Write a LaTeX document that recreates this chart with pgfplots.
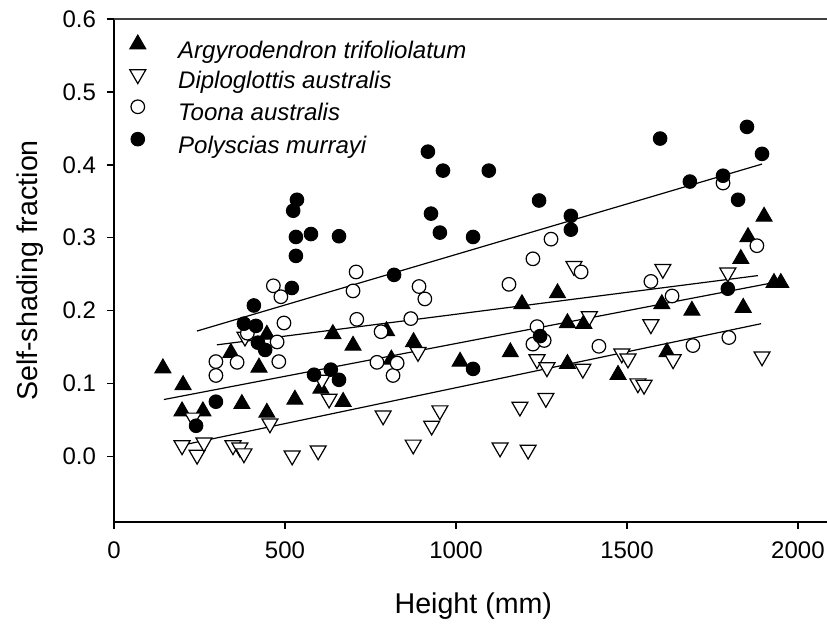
\documentclass[border=0pt]{standalone}
\usepackage{fontspec}
\setmainfont{Liberation Sans}
\usepackage{pgfplots}
\usepackage{pgfplotstable}
\pgfplotsset{compat=1.18}

% Argyrodendron trifoliolatum
\pgfplotstableread{
x y
143 0.121
199 0.062
202 0.098
260 0.062
342 0.142
374 0.072
424 0.122
447 0.167
447 0.060
529 0.078
605 0.093
640 0.168
670 0.075
699 0.152
797 0.172
811 0.133
876 0.157
1012 0.130
1159 0.143
1193 0.209
1297 0.224
1326 0.183
1326 0.127
1374 0.182
1474 0.112
1602 0.209
1617 0.143
1690 0.200
1833 0.271
1840 0.204
1854 0.301
1901 0.329
1930 0.238
1950 0.238
}\argy

% Diploglottis australis
\pgfplotstableread{
x y
199 0.015
231 0.053
243 0.002
263 0.019
348 0.015
368 0.012
380 0.004
383 0.164
456 0.045
521 0.001
597 0.008
608 0.105
629 0.079
787 0.056
875 0.016
889 0.143
929 0.042
953 0.063
1129 0.012
1187 0.068
1211 0.009
1237 0.133
1263 0.080
1266 0.122
1345 0.261
1371 0.120
1390 0.192
1485 0.141
1503 0.134
1532 0.100
1550 0.098
1570 0.181
1605 0.257
1635 0.133
1795 0.252
1895 0.137
}\diplo

% Toona australis
\pgfplotstableread{
x y
298 0.130
298 0.111
360 0.129
390 0.169
466 0.234
477 0.157
482 0.130
488 0.219
497 0.183
699 0.227
708 0.253
710 0.188
769 0.129
781 0.171
816 0.111
828 0.128
868 0.189
892 0.233
909 0.216
1155 0.236
1225 0.271
1225 0.154
1237 0.178
1258 0.159
1278 0.298
1366 0.253
1418 0.151
1570 0.240
1632 0.220
1693 0.152
1781 0.375
1798 0.163
1880 0.289
}\toona

% Polyscias murrayi
\pgfplotstableread{
x y
240 0.042
298 0.075
380 0.182
409 0.207
415 0.179
421 0.156
442 0.146
520 0.231
524 0.337
532 0.275
532 0.301
535 0.352
576 0.305
585 0.112
634 0.119
658 0.105
658 0.302
819 0.249
918 0.418
927 0.333
953 0.307
962 0.392
1050 0.120
1050 0.301
1096 0.392
1243 0.351
1246 0.165
1336 0.330
1336 0.311
1597 0.436
1684 0.377
1781 0.385
1795 0.230
1825 0.352
1851 0.452
1895 0.415
}\poly

\begin{document}
\begin{tikzpicture}
\useasboundingbox (0,0) rectangle (413.5pt,312pt);
\begin{axis}[
  at={(57pt,51pt)}, anchor=south west,
  scale only axis, width=356.5pt, height=251.5pt,
  xmin=0, xmax=2085, ymin=-0.09, ymax=0.6,
  axis x line*=bottom, axis y line*=left,
  axis line style={-, line width=0.75pt},
  xtick={0,500,1000,1500,2000},
  ytick={0,0.1,0.2,0.3,0.4,0.5,0.6},
  tick align=outside,
  major tick length=3.5pt,
  tick style={black, line width=0.75pt},
  ticklabel style={font=\fontsize{12}{14}\selectfont},
  /pgf/number format/assume math mode=true,
  xticklabel style={/pgf/number format/1000 sep={}, yshift=-3pt},
  yticklabel style={/pgf/number format/fixed, /pgf/number format/fixed zerofill, /pgf/number format/precision=1, xshift=-2pt},
  xlabel={Height (mm)},
  ylabel={Self-shading fraction},
  label style={font=\fontsize{14.3}{16}\selectfont},
  xlabel style={at={(rel axis cs:0.504,-0.181)}, anchor=base},
  ylabel style={at={(rel axis cs:-0.107,0.5)}, anchor=base},
  legend style={
    at={(rel axis cs:0.0,0.969)}, anchor=north west,
    draw=none, fill=none, inner sep=0pt,
    font=\itshape\fontsize{12}{14}\selectfont,
    row sep=4.2pt, column sep=14pt,
    nodes={inner sep=0pt},
  },
  legend cell align=left,
  legend image code/.code={\path (-11.5pt,0pt) (6pt,0pt); \draw[#1] plot coordinates {(0pt,3.5pt)};},
]
\addplot[only marks, mark=triangle*, mark size=4.6pt, mark options={fill=black, draw=black, line width=0.5pt}] table {\argy};
\addlegendentry{Argyrodendron trifoliolatum}
\addplot[only marks, mark=triangle*, mark size=4.6pt, mark options={rotate=180, fill=white, draw=black, line width=0.6pt}] table {\diplo};
\addlegendentry{Diploglottis australis}
\addplot[only marks, mark=*, mark size=3.4pt, mark options={fill=white, draw=black, line width=0.6pt}] table {\toona};
\addlegendentry{Toona australis}
\addplot[only marks, mark=*, mark size=3.4pt, mark options={fill=black, draw=black, line width=0.5pt}] table {\poly};
\addlegendentry{Polyscias murrayi}

% regression lines
\addplot[forget plot, black, line width=0.6pt] coordinates {(146,0.078) (1947,0.240)};
\addplot[forget plot, black, line width=0.6pt] coordinates {(216,0.017) (1892,0.182)};
\addplot[forget plot, black, line width=0.6pt] coordinates {(301,0.153) (1883,0.248)};
\addplot[forget plot, black, line width=0.6pt] coordinates {(243,0.172) (1895,0.401)};

\draw[line width=1pt, black!75] (rel axis cs:0,1) -- (rel axis cs:1,1);
\end{axis}
\end{tikzpicture}
\end{document}
